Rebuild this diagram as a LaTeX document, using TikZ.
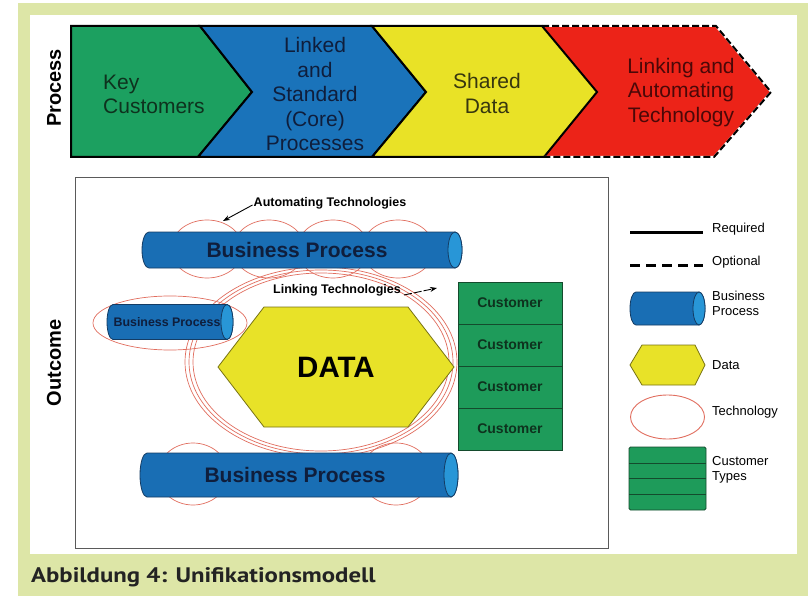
\documentclass[tikz,border=0pt]{standalone}
\usepackage{fontspec}
\setmainfont{Liberation Sans}
\newfontfamily\capfont[FakeStretch=1.18]{PT Sans}
\usetikzlibrary{arrows.meta}
\definecolor{bggreen}{RGB}{221,230,167}
\definecolor{chgreen}{RGB}{28,160,96}
\definecolor{chblue}{RGB}{26,115,186}
\definecolor{chyellow}{RGB}{233,226,38}
\definecolor{chred}{RGB}{236,35,24}
\definecolor{ktext}{RGB}{14,50,30}
\definecolor{btext}{RGB}{15,30,60}
\definecolor{ytext}{RGB}{55,55,15}
\definecolor{rtext}{RGB}{75,8,8}
\definecolor{cylblue}{RGB}{25,110,180}
\definecolor{cylcap}{RGB}{40,150,215}
\definecolor{cylline}{RGB}{20,60,100}
\definecolor{custgreen}{RGB}{30,155,90}
\definecolor{custline}{RGB}{20,75,45}
\definecolor{hexyellow}{RGB}{232,226,40}
\definecolor{hexline}{RGB}{120,115,20}
\definecolor{techred}{RGB}{225,110,95}
\definecolor{boxgray}{RGB}{90,90,90}
\definecolor{captext}{RGB}{35,35,35}
\newcommand\drawbpcyl[5]{%
  \filldraw[fill=cylblue,draw=cylline,line width=0.8]
    (#2-#5,#3-#4) -- (#1+#5,#3-#4)
    arc[start angle=270,end angle=90,x radius=#5,y radius=#4]
    -- (#2-#5,#3+#4)
    arc[start angle=90,end angle=-90,x radius=#5,y radius=#4] -- cycle;
  \filldraw[fill=cylcap,draw=cylline,line width=0.8] (#2-#5,#3) ellipse[x radius=#5,y radius=#4];
}
\begin{document}
\begin{tikzpicture}[x=1pt,y=-1pt,
  chtext/.style={inner sep=0pt,font=\fontsize{21}{24.5}\selectfont},
  bptext/.style={inner sep=0pt,text=btext,font=\bfseries\fontsize{21}{21}\selectfont},
  smalllabel/.style={inner sep=0pt,text=black,font=\bfseries\fontsize{12.5}{12.5}\selectfont},
  sidelabel/.style={inner sep=0pt,rotate=90,font=\bfseries\fontsize{20}{20}\selectfont},
  techline/.style={draw=techred,line width=0.7},
  custbox/.style={draw=custline,fill=custgreen,line width=0.8,minimum width=104pt,minimum height=42pt,inner sep=0pt,text=ktext,font=\bfseries\fontsize{14}{14}\selectfont},
  legtext/.style={inner sep=0pt,anchor=west,align=left,font=\fontsize{13}{15}\selectfont},
  arr/.style={-{Stealth[length=7pt,width=5pt]},line width=0.9}
]
\useasboundingbox (0,0) rectangle (808,596);
\fill[white] (0,0) rectangle (808,596);
\fill[bggreen] (18,3) rectangle (808,596);
\fill[white] (30,15) rectangle (797,554);

% ---------- process chevrons ----------
\fill[chred] (542,26) -- (716,26) -- (771,92) -- (714,157) -- (544,157) -- (597,92) -- cycle;
\filldraw[fill=chgreen,draw=black,line width=2,line join=miter] (71,26) -- (200,26) -- (252,92) -- (198,157) -- (71,157) -- cycle;
\filldraw[fill=chblue,draw=black,line width=2] (200,26) -- (372,26) -- (426,92) -- (372,157) -- (198,157) -- (252,92) -- cycle;
\filldraw[fill=chyellow,draw=black,line width=2] (372,26) -- (542,26) -- (597,92) -- (544,157) -- (372,157) -- (426,92) -- cycle;
\draw[white,line width=2] (542,26) -- (716,26) -- (771,92) -- (714,157) -- (544,157);
\draw[black,line width=2,dash pattern=on 7pt off 3pt] (542,26) -- (716,26) -- (771,92) -- (714,157) -- (544,157);

\node[chtext,text=ktext,align=left,anchor=west] (kc) at (103,94.5) {Key\\Customers};
\node[chtext,text=btext,align=center] (lsp) at (315,94) {Linked\\and\\Standard\\(Core)\\Processes};
\node[chtext,text=ytext,align=center] (sd) at (487,93.5) {Shared\\Data};
\node[chtext,text=rtext,align=center] (lat) at (681,92.5) {Linking and\\Automating\\Technology};

\node[sidelabel] (proc) at (54,88) {Process};
\node[sidelabel] (outc) at (54,363) {Outcome};

% ---------- outcome ----------
\draw[boxgray,line width=1] (75,178) rectangle (608,548);

% linking technology ellipses
\draw[techline] (321,362) ellipse[x radius=136,y radius=95];
\draw[techline] (321,362) ellipse[x radius=132,y radius=92];
\draw[techline] (321,362) ellipse[x radius=128,y radius=89];

% automating technology ellipses
\foreach \cx in {207,269,333,398}
  \draw[techline] (\cx,249) ellipse[x radius=36,y radius=29];
\foreach \cx in {193,396}
  \draw[techline] (\cx,474) ellipse[x radius=35,y radius=31];
\draw[techline] (170,323) ellipse[x radius=77,y radius=27];

% business process cylinders
\drawbpcyl{142}{462}{250}{18}{7}
\drawbpcyl{140}{458}{475}{22}{7}
\drawbpcyl{107}{233}{322}{17.5}{6}
\node[bptext] (bptop) at (297,250) {Business Process};
\node[bptext] (bpbot) at (295,475) {Business Process};
\node[bptext,font=\bfseries\fontsize{12.4}{12.4}\selectfont] (bpleft) at (167,322) {Business Process};

% data hexagon
\filldraw[fill=hexyellow,draw=hexline,line width=0.8] (218,367) -- (264,307) -- (408,307) -- (454,367) -- (408,427) -- (264,427) -- cycle;
\node[inner sep=0pt,text=black,font=\bfseries\fontsize{29.5}{29.5}\selectfont] (data) at (336,367) {DATA};

% customers
\node[custbox] (cu1) at (510,303) {Customer};
\node[custbox] (cu2) at (510,345) {Customer};
\node[custbox] (cu3) at (510,387) {Customer};
\node[custbox] (cu4) at (510,429) {Customer};

% labels with arrows
\node[smalllabel] (autolab) at (330,203) {Automating Technologies};
\coordinate (autotip) at (223,221);
\draw[arr] ([xshift=-1pt,yshift=-2pt]autolab.west) -- (autotip);
\node[smalllabel] (linklab) at (337,290) {Linking Technologies};
\coordinate (linktip) at (437,288);
\draw[arr,dash pattern=on 8pt off 2pt] ([xshift=3pt,yshift=-5pt]linklab.east) -- (linktip);

% ---------- legend ----------
\coordinate (reqa) at (630,232); \coordinate (reqb) at (703,232);
\draw[line width=3] (reqa) -- (reqb);
\node[legtext] (lreq) at (712,229) {Required};
\coordinate (opta) at (630,265); \coordinate (optb) at (703,265);
\draw[line width=3,dash pattern=on 10pt off 6pt] (opta) -- (optb);
\node[legtext] (lopt) at (712,262) {Optional};
\drawbpcyl{630}{705}{308.5}{16.5}{6}
\node[legtext] (lbp) at (712,303) {Business\\Process};
\filldraw[fill=hexyellow,draw=hexline,line width=0.8] (630,365) -- (642,345) -- (695,345) -- (705,365) -- (695,385) -- (642,385) -- cycle;
\node[legtext] (ldata) at (712,365) {Data};
\draw[techline,line width=0.9] (667.5,417) ellipse[x radius=37,y radius=22];
\node[legtext] (ltech) at (712,412) {Technology};
\filldraw[fill=custgreen,draw=custline,line width=0.8,rounded corners=1.5] (629,447) rectangle (706,510);
\draw[custline,line width=1] (629,463) -- (706,463) (629,478) -- (706,478) (629,494) -- (706,494);
\node[legtext] (lcust) at (712,470) {Customer\\Types};

% caption
\node[anchor=west,inner sep=0pt,text=captext,font=\capfont\bfseries\fontsize{21}{21}\selectfont] (cap) at (31,577) {Abbildung 4: Unifikationsmodell};
\end{tikzpicture}
\end{document}
